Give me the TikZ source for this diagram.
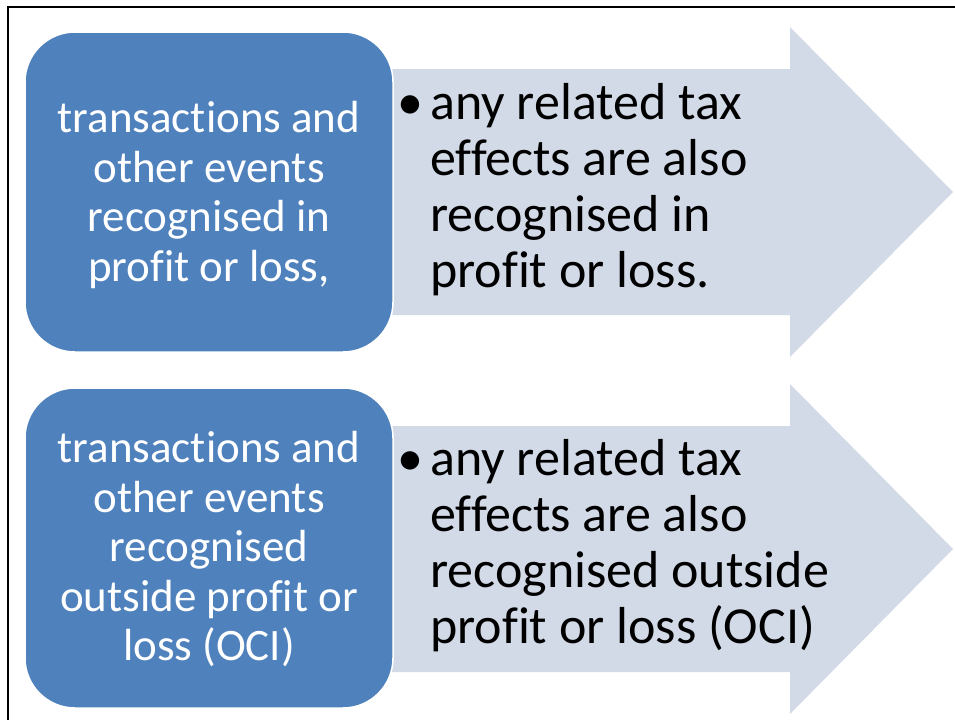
\documentclass[tikz,border=0pt]{standalone}
\usepackage{fontspec}
\setmainfont[Ligatures=NoCommon]{Carlito}
\usepackage{tikz}

\definecolor{azul}{HTML}{4F81BD}
\definecolor{celeste}{HTML}{D3DAE7}

\begin{document}
\begin{tikzpicture}[x=1pt, y=-1pt]
		\tikzstyle{caja} = [draw=white, line width=1.5pt, fill=azul, rounded corners=50pt, minimum width=368pt, minimum height=320pt, inner sep=0pt, text=white, font=\fontsize{45}{49.5}\selectfont]
		\tikzstyle{vineta} = [anchor=west, inner sep=0pt, font=\fontsize{52}{56}\selectfont]
		\tikzstyle{flecha} = [fill=celeste]
		\useasboundingbox (0,0) rectangle (955,720);
	% Marco
		\draw[line width=2pt] (955,7) -- (8,7) -- (8,720);

	% Flechas
		\fill[flecha] (380,69) -- (790,69) -- (790,27) -- (953,192) -- (790,357) -- (790,315) -- (380,315) -- cycle;
		\fill[flecha] (380,426) -- (790,426) -- (790,384) -- (953,549) -- (790,714) -- (790,672) -- (380,672) -- cycle;

	% Cajas
		\node[caja] (caja1) at (209, 192) {\raisebox{-5pt}[\height][\depth]{\begin{tabular}{@{}c@{}}transactions and\\ other events\\ recognised in\\ profit or loss,\end{tabular}}};
		\node[caja] (caja2) at (209, 548) {\raisebox{-4pt}[\height][\depth]{\begin{tabular}{@{}c@{}}transactions and\\ other events\\ recognised\\ outside profit or\\ loss (OCI)\end{tabular}}};

	% Textos
		\node[vineta] (texto1) at (397, 192) {\begin{tabular}{@{}p{33pt}@{}l@{}}• & any related tax\\ & effects are also\\ & recognised in\\ & profit or loss.\end{tabular}};
		\node[vineta] (texto2) at (397, 548) {\begin{tabular}{@{}p{33pt}@{}l@{}}• & any related tax\\ & effects are also\\ & recognised outside\\ & profit or loss (OCI)\end{tabular}};

	\end{tikzpicture}
\end{document}
